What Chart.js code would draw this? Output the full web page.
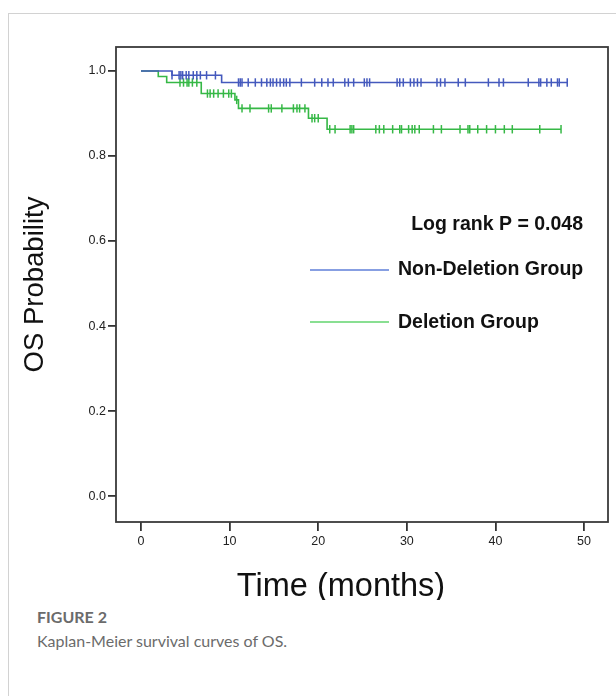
<!DOCTYPE html>
<html>
<head>
<meta charset="utf-8">
<script src="https://cdn.jsdelivr.net/npm/chart.js@4.4.0/dist/chart.umd.min.js"></script>
<style>
    body { margin: 0; background: #fff; }
    #card {
        position: absolute; left: 8px; top: 13px; width: 700px; height: 700px;
        border-left: 1px solid #d2d2d2; border-top: 1px solid #d2d2d2;
    }
    #plotBox { position: absolute; left: 0; top: 0; width: 616px; height: 600px; }
    .fig-label {
        position: absolute; left: 37px; top: 607px;
        font-family: Lato, 'Open Sans', sans-serif; font-weight: bold; font-size: 16px; color: #6b6b6b;
    }
    .fig-caption {
        position: absolute; left: 37px; top: 631px;
        font-family: Lato, 'Open Sans', sans-serif; font-size: 16px; color: #6b6b6b;
    }
</style>
</head>
<body>
<div id="card"></div>
<div id="plotBox"><canvas id="kmChart" width="616" height="600"></canvas></div>
<div class="fig-label">FIGURE 2</div>
<div class="fig-caption">Kaplan-Meier survival curves of OS.</div>

<script>
// axis ticks
const xTicks = [0, 10, 20, 30, 40, 50];
const yTicks = [0.0, 0.2, 0.4, 0.6, 0.8, 1.0];

// Non-Deletion group: step times / survival after each step
const nonDelTimes = [0, 3.5, 9.1];
const nonDelSurv = [1.0, 0.990, 0.973];
const nonDelLastTime = 48.1;
const nonDelCensored = [3.5, 4.3, 4.5, 4.7, 5.1, 5.4, 5.9, 6.3, 6.7, 7.4, 8.4,
    11.0, 11.2, 11.4, 12.1, 12.9, 13.6, 14.2, 14.6, 14.9, 15.3, 15.7, 16.1, 16.4, 16.8,
    18.1, 19.6, 20.4, 21.1, 21.7, 23.0, 23.4, 24.0, 25.2, 25.5, 25.8, 28.9, 29.2, 29.6,
    30.4, 30.8, 31.2, 31.6, 33.4, 33.8, 34.3, 35.8, 36.6, 39.2, 40.4, 40.9, 43.7, 44.9,
    45.1, 45.8, 46.3, 47.0, 47.2, 48.1];

// Deletion group
const delTimes = [0, 1.95, 2.9, 6.8, 10.6, 11.0, 18.9, 21.0];
const delSurv = [1.0, 0.987, 0.973, 0.947, 0.932, 0.912, 0.889, 0.863];
const delLastTime = 47.4;
const delCensored = [4.4, 4.8, 5.2, 5.4, 5.8, 6.3, 7.5, 7.8, 8.2, 8.7, 9.3, 9.9, 10.2,
    10.8, 11.4, 12.3, 14.4, 14.7, 15.9, 17.2, 17.6, 17.9, 18.5, 19.3, 19.6, 20.0,
    21.3, 21.9, 23.6, 23.8, 24.0, 26.5, 26.9, 27.4, 28.4, 29.2, 29.4, 30.2, 30.6, 30.9,
    31.4, 33.0, 33.9, 36.0, 36.9, 37.1, 38.0, 39.0, 40.0, 41.0, 41.9, 45.0, 47.4];

const groupNames = ['Non-Deletion Group', 'Deletion Group'];
const pValueText = 'Log rank P = 0.048';

const BLUE = '#4459bd';
const GREEN = '#36b846';
const FONT = "'Liberation Sans', Arial, sans-serif";

function survAt(times, surv, t) {
    let s = surv[0];
    for (let i = 0; i < times.length; i++) {
        if (times[i] <= t) s = surv[i];
    }
    return s;
}

function stepPoints(times, surv, lastTime) {
    const pts = times.map((t, i) => ({ x: t, y: surv[i] }));
    pts.push({ x: lastTime, y: surv[surv.length - 1] });
    return pts;
}

function censorPoints(times, surv, censored) {
    return censored.map(t => ({ x: t, y: survAt(times, surv, t) }));
}

// frame, legend and x title
const decorPlugin = {
    id: 'decor',
    afterDraw(chart) {
        const ctx = chart.ctx;
        const a = chart.chartArea;
        ctx.save();
        ctx.strokeStyle = '#3a3a3a';
        ctx.lineWidth = 1.8;
        ctx.strokeRect(a.left, a.top, a.right - a.left, a.bottom - a.top);

        ctx.fillStyle = '#111';
        ctx.textBaseline = 'middle';
        ctx.font = 'bold 19.5px ' + FONT;
        ctx.textAlign = 'right';
        ctx.fillText(pValueText, 583, 225);

        ctx.textAlign = 'left';
        ctx.fillText(groupNames[0], 398, 270);
        ctx.fillText(groupNames[1], 398, 323);

        ctx.lineWidth = 1.3;
        ctx.strokeStyle = '#5f7fd8';
        ctx.beginPath(); ctx.moveTo(310, 270); ctx.lineTo(389, 270); ctx.stroke();
        ctx.strokeStyle = '#62d46e';
        ctx.beginPath(); ctx.moveTo(310, 322); ctx.lineTo(389, 322); ctx.stroke();

        ctx.font = '32.5px ' + FONT;
        ctx.textAlign = 'center';
        ctx.fillText('Time (months)', 341, 587);
        ctx.restore();
    }
};

new Chart(document.getElementById('kmChart'), {
    type: 'scatter',
    data: {
        datasets: [
            {
                label: groupNames[0],
                type: 'line',
                data: stepPoints(nonDelTimes, nonDelSurv, nonDelLastTime),
                stepped: true,
                borderColor: BLUE,
                borderWidth: 1.6,
                pointRadius: 0,
                fill: false
            },
            {
                label: groupNames[1],
                type: 'line',
                data: stepPoints(delTimes, delSurv, delLastTime),
                stepped: true,
                borderColor: GREEN,
                borderWidth: 1.6,
                pointRadius: 0,
                fill: false
            },
            {
                label: groupNames[0] + ' censored',
                data: censorPoints(nonDelTimes, nonDelSurv, nonDelCensored),
                pointStyle: 'line',
                rotation: 90,
                radius: 4.2,
                borderColor: BLUE,
                borderWidth: 1.5
            },
            {
                label: groupNames[1] + ' censored',
                data: censorPoints(delTimes, delSurv, delCensored),
                pointStyle: 'line',
                rotation: 90,
                radius: 4.2,
                borderColor: GREEN,
                borderWidth: 1.5
            }
        ]
    },
    options: {
        responsive: false,
        animation: false,
        layout: { padding: { left: 0, top: 47, right: 8, bottom: 0 } },
        plugins: {
            legend: { display: false },
            tooltip: { enabled: false }
        },
        scales: {
            x: {
                type: 'linear',
                min: -2.82,
                max: 52.7,
                afterBuildTicks: s => { s.ticks = xTicks.map(v => ({ value: v })); },
                afterFit: s => { s.height = 78; },
                border: { display: false },
                grid: { display: true, drawOnChartArea: false, drawTicks: true, tickLength: 9, color: '#333', lineWidth: 1.8 },
                ticks: { padding: 3, color: '#222', font: { family: FONT, size: 12.5 } }
            },
            y: {
                type: 'linear',
                min: -0.061,
                max: 1.0565,
                afterBuildTicks: s => { s.ticks = yTicks.map(v => ({ value: v })); },
                afterFit: s => { s.width = 116; },
                border: { display: false },
                grid: { display: true, drawOnChartArea: false, drawTicks: true, tickLength: 8, color: '#333', lineWidth: 1.8 },
                ticks: {
                    padding: 2, color: '#222', font: { family: FONT, size: 12.5 },
                    callback: v => v.toFixed(1)
                },
                title: {
                    display: true,
                    text: 'OS Probability',
                    color: '#111',
                    font: { family: FONT, size: 27.5 },
                    padding: { top: 19, bottom: 0 }
                }
            }
        }
    },
    plugins: [decorPlugin]
});
</script>
</body>
</html>
